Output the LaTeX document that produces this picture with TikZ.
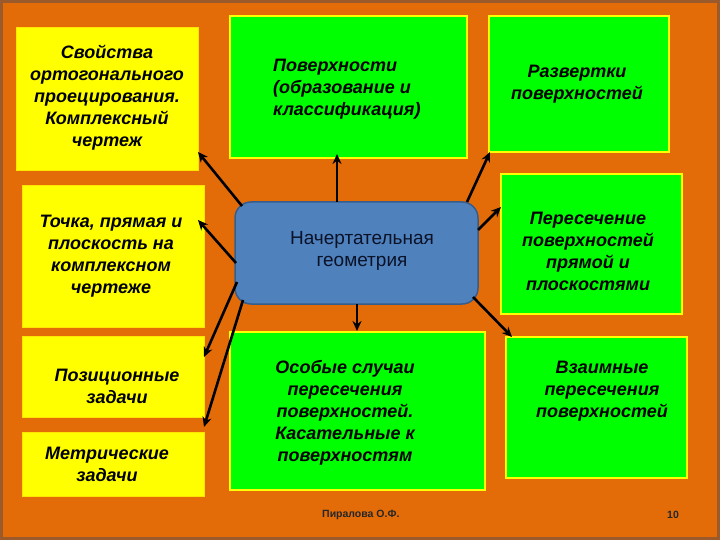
\documentclass[tikz,border=0pt]{standalone}
\usepackage{fontspec}
\setmainfont{Liberation Sans}
\usetikzlibrary{arrows.meta}
\definecolor{bgorange}{HTML}{E36C09}
\definecolor{frameb}{HTML}{9A5A2C}
\definecolor{ybox}{HTML}{FFFF00}
\definecolor{gbox}{HTML}{00FF00}
\definecolor{bluebox}{HTML}{4F81BD}
\definecolor{blueedge}{HTML}{385D8A}
\definecolor{navytext}{HTML}{0A1228}
\tikzset{
  ybx/.style={rectangle, fill=ybox, draw=ybox!80!orange, line width=0.8pt, inner sep=0pt},
  gbx/.style={rectangle, fill=gbox, draw=ybox, line width=1.6pt, inner sep=0pt},
  bbx/.style={rectangle, rounded corners=16pt, fill=bluebox, draw=blueedge, line width=1.5pt, inner sep=0pt},
  txt/.style={font=\fontsize{18}{22}\selectfont\bfseries\itshape, align=center, text=black, inner sep=0pt},
  btxt/.style={font=\fontsize{19}{22}\selectfont, align=center, text=navytext, inner sep=0pt},
  foot/.style={font=\fontsize{10.5}{12}\selectfont\bfseries, text=black!85, inner sep=0pt},
  arr/.style={draw=black, line width=2.6pt, -{Stealth[length=10pt,width=9pt]}},
}
\begin{document}
\begin{tikzpicture}[x=1pt,y=-1pt]
\useasboundingbox (0,0) rectangle (720,540);
\fill[bgorange] (0,0) rectangle (720,540);
\draw[frameb, line width=3pt] (1.5,1.5) rectangle (718.5,538.5);

% boxes
\node[ybx, minimum width=182pt, minimum height=143pt] (y1) at (107,98.5) {};
\node[ybx, minimum width=182pt, minimum height=142pt] (y2) at (113,256) {};
\node[ybx, minimum width=182pt, minimum height=81pt] (y3) at (113,376.5) {};
\node[ybx, minimum width=182pt, minimum height=64pt] (y4) at (113,464) {};

\node[gbx, minimum width=237pt, minimum height=142pt] (g1) at (348.5,87) {};
\node[gbx, minimum width=180pt, minimum height=136pt] (g2) at (579,84) {};
\node[gbx, minimum width=181pt, minimum height=140pt] (g3) at (591.5,244) {};
\node[gbx, minimum width=255pt, minimum height=158pt] (g4) at (357.5,411) {};
\node[gbx, minimum width=181pt, minimum height=141pt] (g5) at (596.5,407.5) {};

\node[bbx, minimum width=243pt, minimum height=102pt] (blue) at (356.5,253) {};

% texts
\node[txt] (t1) at (107,98) {Свойства\\ортогонального\\проецирования.\\Комплексный\\чертеж};
\node[txt] (t2) at (111,256) {Точка, прямая и\\плоскость на\\комплексном\\чертеже};
\node[txt] (t3) at (117,386) {Позиционные\\задачи};
\node[txt] (t4) at (107,464) {Метрические\\задачи};
\node[txt, align=left, anchor=west] (t5) at (273,89) {Поверхности\\(образование и\\классификация)};
\node[txt] (t6) at (577,84) {Развертки\\поверхностей};
\node[txt] (t7) at (588,251) {Пересечение\\поверхностей\\прямой и\\плоскостями};
\node[txt] (t8) at (345,412.5) {Особые случаи\\пересечения\\поверхностей.\\Касательные к\\поверхностям};
\node[txt] (t9) at (602,391) {Взаимные\\пересечения\\поверхностей};
\node[btxt] (t10) at (362,251) {Начертательная\\геометрия};

% footer
\node[foot, anchor=west] (f1) at (322,515) {Пиралова О.Ф.};
\node[foot] (f2) at (673,515) {10};

% arrow end points
\coordinate (s1) at (242,206);
\coordinate (e1) at (198,152);
\coordinate (s2) at (236,263);
\coordinate (e2) at (198,220);
\coordinate (s3) at (237,282);
\coordinate (e3) at (204,357);
\coordinate (s4) at (243,300);
\coordinate (e4) at (204,427);
\coordinate (s5) at (337,202);
\coordinate (e5) at (337,154);
\coordinate (s6) at (357,304);
\coordinate (e6) at (357,331);
\coordinate (s7) at (467,202);
\coordinate (e7) at (490,152);
\coordinate (s8) at (478,230);
\coordinate (e8) at (501,207);
\coordinate (s9) at (473,297);
\coordinate (e9) at (512,337);

\draw[arr] (s1) -- (e1);
\draw[arr] (s2) -- (e2);
\draw[arr] (s3) -- (e3);
\draw[arr] (s4) -- (e4);
\draw[arr] (s5) -- (e5);
\draw[arr] (s6) -- (e6);
\draw[arr] (s7) -- (e7);
\draw[arr] (s8) -- (e8);
\draw[arr] (s9) -- (e9);
\end{tikzpicture}
\end{document}
